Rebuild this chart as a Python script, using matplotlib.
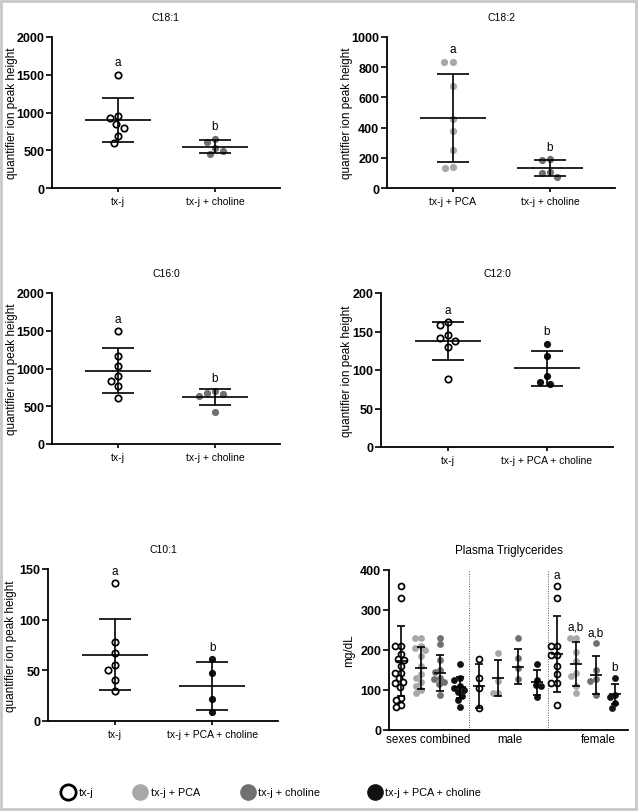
import matplotlib
matplotlib.use('Agg')
import matplotlib.pyplot as plt
from matplotlib.lines import Line2D
from matplotlib.patches import Rectangle
import numpy as np

plt.rcParams['font.family'] = ['Liberation Sans', 'DejaVu Sans']

# ---- data ----
c181_groups = ['tx-j', 'tx-j + choline']
c181_txj = [1500, 960, 930, 850, 800, 695, 595]
c181_choline = [655, 605, 535, 495, 445]
c181_mean = [903, 546]
c181_sd = [290, 88]

c182_groups = ['tx-j + PCA', 'tx-j + choline']
c182_pca = [835, 835, 675, 456, 379, 251, 141, 130]
c182_choline = [189, 183, 104, 99, 75]
c182_mean = [463, 132]
c182_sd = [290, 53]

c160_groups = ['tx-j', 'tx-j + choline']
c160_txj = [1495, 1170, 1033, 900, 830, 764, 615]
c160_choline = [707, 676, 663, 632, 430]
c160_mean = [971, 619]
c160_sd = [295, 108]

c120_groups = ['tx-j', 'tx-j + PCA + choline']
c120_txj = [162, 158, 145, 142, 138, 130, 88]
c120_pca_choline = [134, 118, 92, 85, 82]
c120_mean = [137.6, 102.5]
c120_sd = [24.6, 22.8]

c101_groups = ['tx-j', 'tx-j + PCA + choline']
c101_txj = [136, 78, 67, 55, 50, 40, 30]
c101_pca_choline = [61, 47, 22, 9]
c101_mean = [65.2, 34.5]
c101_sd = [35, 23.5]

letters_two = ['a', 'b']

tg_subsets = ['sexes combined', 'male', 'female']
tg_treatments = ['tx-j', 'tx-j + PCA', 'tx-j + choline', 'tx-j + PCA + choline']
tg_combined = [
    [360, 330, 210, 210, 190, 178, 175, 160, 143, 143, 130, 120, 118, 108, 80, 75, 62, 57],
    [230, 230, 210, 205, 200, 185, 160, 140, 130, 120, 110, 100, 92],
    [230, 215, 175, 150, 145, 130, 127, 120, 115, 88],
    [165, 130, 125, 110, 105, 100, 95, 85, 75, 57],
]
tg_male = [
    [178, 131, 104, 55],
    [192, 122, 93, 93],
    [229, 179, 154, 127],
    [165, 126, 112, 109, 83],
]
tg_female = [
    [360, 330, 211, 211, 188, 188, 160, 140, 117, 117, 62],
    [230, 230, 194, 173, 142, 134, 109, 92],
    [217, 151, 127, 123, 88],
    [130, 88, 83, 67, 55],
]
tg_mean_combined = [172, 155, 143, 107]
tg_sd_combined = [87, 52, 45, 26]
tg_mean_male = [110, 131, 158, 119]
tg_sd_male = [55, 45, 44, 31]
tg_mean_female = [190, 164, 137.5, 90]
tg_sd_female = [95, 55, 48.5, 25]
tg_letters_female = ['a', 'a,b', 'a,b', 'b']

# ---- styles ----
COLORS = {'tx-j': 'open', 'tx-j + PCA': '#a8a8a8', 'tx-j + choline': '#707070',
          'tx-j + PCA + choline': '#111111'}

W, H = 638, 812
fig = plt.figure(figsize=(W / 100, H / 100), dpi=100)


def px_axes(left, top, right, bottom):
    return fig.add_axes([left / W, 1 - bottom / H, (right - left) / W, (bottom - top) / H])


def swarm(ax, x, vals, d):
    ys = ax.transData.transform([(x, v) for v in vals])[:, 1]
    placed = []
    offs = np.zeros(len(vals))
    for i in np.argsort(-np.asarray(vals), kind='stable'):
        cands = [0.0]
        for xo, yo in placed:
            dy = ys[i] - yo
            if abs(dy) < d:
                dx = np.sqrt(d * d - dy * dy)
                cands += [xo - dx, xo + dx]
        ok = [c for c in cands
              if all((c - xo) ** 2 + (ys[i] - yo) ** 2 >= d * d - 1e-6 for xo, yo in placed)]
        best = min(ok, key=lambda c: (round(abs(c), 3), c))
        offs[i] = best
        placed.append((best, ys[i]))
    ppu = ax.transData.transform((1, 0))[0] - ax.transData.transform((0, 0))[0]
    return offs / ppu


def column(ax, x, vals, mean, sd, treatment, hw_mean, hw_cap, ms=4.6, d=6.6):
    col = COLORS[treatment]
    ppu = ax.transData.transform((1, 0))[0] - ax.transData.transform((0, 0))[0]
    offs = swarm(ax, x, vals, d)
    if col == 'open':
        ax.plot(x + offs, vals, 'o', ms=ms, mfc='white', mec='black', mew=1.25,
                zorder=3, clip_on=False)
    else:
        ax.plot(x + offs, vals, 'o', ms=ms + 0.6, mfc=col, mec=col, mew=0,
                zorder=3, clip_on=False)
    ax.vlines(x, mean - sd, mean + sd, color='black', lw=1.2, zorder=4)
    ax.hlines([mean - sd, mean + sd], x - hw_cap / ppu, x + hw_cap / ppu,
              color='black', lw=1.2, zorder=4)
    ax.hlines(mean, x - hw_mean / ppu, x + hw_mean / ppu, color='black', lw=1.2, zorder=4)


def style(ax, title, ymax, step, ylabel, label_x, title_size=7.5):
    ax.set_ylim(0, ymax)
    ax.set_yticks(np.arange(0, ymax + 1, step))
    for s in ['top', 'right']:
        ax.spines[s].set_visible(False)
    for s in ['left', 'bottom']:
        ax.spines[s].set_linewidth(1.3)
    ax.tick_params(axis='y', length=4, width=1.2, labelsize=9, pad=1.5)
    for t in ax.get_yticklabels():
        t.set_fontweight('bold')
    ax.set_ylabel(ylabel, fontsize=8.5)
    ax.yaxis.set_label_coords(label_x, 0.5)
    ax.set_title(title, fontsize=title_size, pad=12)


def small_panel(box, title, ymax, step, groups, series, means, sds, label_x=-0.149):
    ax = px_axes(*box)
    ax.set_xlim(0.32, 2.67)
    style(ax, title, ymax, step, 'quantifier ion peak height', label_x)
    ax.set_xticks([1, 2])
    ax.set_xticklabels(groups, fontsize=7.5)
    ax.tick_params(axis='x', length=3, width=1.2, pad=3)
    for i, (vals, treatment) in enumerate(series):
        column(ax, i + 1, vals, means[i], sds[i], treatment, 33, 16, d=8.5)
        ax.annotate(letters_two[i], (i + 1, max(vals)), xytext=(0, 9),
                    textcoords='offset points', ha='center', va='center', fontsize=8.5)
    return ax


small_panel((52, 38, 280, 189), 'C18:1', 2000, 500, c181_groups,
            [(c181_txj, 'tx-j'), (c181_choline, 'tx-j + choline')], c181_mean, c181_sd)
small_panel((387, 38, 615, 189), 'C18:2', 1000, 200, c182_groups,
            [(c182_pca, 'tx-j + PCA'), (c182_choline, 'tx-j + choline')], c182_mean, c182_sd)
small_panel((52, 294, 280, 445), 'C16:0', 2000, 500, c160_groups,
            [(c160_txj, 'tx-j'), (c160_choline, 'tx-j + choline')], c160_mean, c160_sd)
small_panel((381, 294, 613, 448), 'C12:0', 200, 50, c120_groups,
            [(c120_txj, 'tx-j'), (c120_pca_choline, 'tx-j + PCA + choline')], c120_mean, c120_sd,
            label_x=-0.12)
small_panel((48, 570, 278, 722), 'C10:1', 150, 50, c101_groups,
            [(c101_txj, 'tx-j'), (c101_pca_choline, 'tx-j + PCA + choline')], c101_mean, c101_sd,
            label_x=-0.135)

# ---- plasma triglycerides ----
ax = px_axes(389, 571, 628, 731)
ax.set_xlim(-0.63, 11.67)
style(ax, 'Plasma Triglycerides', 400, 100, 'mg/dL', -0.142, title_size=8.4)
ax.set_xticks([1.4, 5.6, 10.15])
ax.set_xticklabels(tg_subsets, fontsize=8.4)
ax.tick_params(axis='x', length=0, pad=2)
subsets = [(tg_combined, tg_mean_combined, tg_sd_combined),
           (tg_male, tg_mean_male, tg_sd_male),
           (tg_female, tg_mean_female, tg_sd_female)]
for g, (cols, means, sds) in enumerate(subsets):
    for j, treatment in enumerate(tg_treatments):
        x = g * 4 + j
        column(ax, x, cols[j], means[j], sds[j], treatment, 6, 4, ms=4.3, d=5.8)
        if g == 2:
            ax.annotate(tg_letters_female[j], (x, max(cols[j])), xytext=(0, 8),
                        textcoords='offset points', ha='center', va='center', fontsize=8.5)
for xd in [3.5, 7.55]:
    ax.axvline(xd, color='#555555', lw=0.7, ls=(0, (1, 1.5)), zorder=1)

# ---- legend ----
leg_y = 1 - 793 / H
for treatment, mx, tx in zip(tg_treatments, [68, 140, 248, 375], [79, 151, 258, 385]):
    col = COLORS[treatment]
    if col == 'open':
        m = Line2D([mx / W], [leg_y], marker='o', ms=11, mfc='white', mec='black', mew=2,
                   ls='none', transform=fig.transFigure)
    else:
        m = Line2D([mx / W], [leg_y], marker='o', ms=12, mfc=col, mec=col, mew=0,
                   ls='none', transform=fig.transFigure)
    fig.add_artist(m)
    fig.text(tx / W, leg_y, treatment, fontsize=7.8, va='center', ha='left')

fig.add_artist(Rectangle((0.001, 0.002), 0.996, 0.996, transform=fig.transFigure,
                         fill=False, ec='#c8c8c8', lw=2))

fig.savefig('out.png', dpi=100)
